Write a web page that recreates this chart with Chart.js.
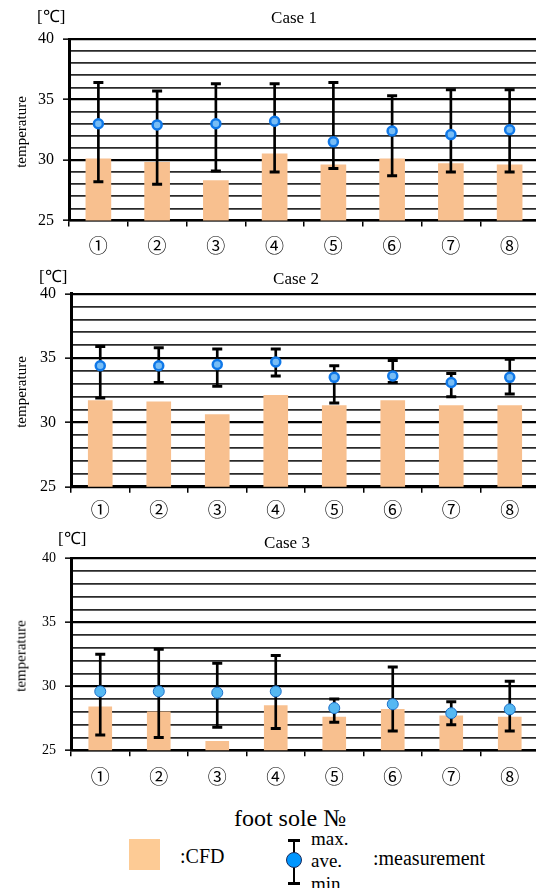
<!DOCTYPE html>
<html>
<head>
<meta charset="utf-8">
<script src="https://cdn.jsdelivr.net/npm/chart.js@4.4.1/dist/chart.umd.min.js"></script>
<style>
  html, body { margin: 0; padding: 0; width: 536px; height: 888px; overflow: hidden; background: #fff; }
  body { position: relative; font-family: "Liberation Serif", "Times New Roman", serif; color: #000; }
  .wrap { position: absolute; left: 0; width: 547px; }
  .txt { position: absolute; white-space: nowrap; line-height: 1; }
  .ylab { position: absolute; white-space: nowrap; font-size: 15px; line-height: 1; transform: translate(-50%, -50%) rotate(-90deg); }
  .title { position: absolute; font-size: 17px; transform: translateX(-50%); white-space: nowrap; line-height: 1; }
</style>
</head>
<body>
<div class="wrap" style="top:0;height:262px"><canvas id="c1"></canvas></div>
<div class="wrap" style="top:262px;height:262px"><canvas id="c2"></canvas></div>
<div class="wrap" style="top:524px;height:264px"><canvas id="c3"></canvas></div>

<div class="txt" style="left:37px;top:8px;font-size:17px">[℃]</div>
<div class="title" style="left:294px;top:9px">Case 1</div>
<div class="ylab" style="left:21px;top:132px">temperature</div>

<div class="txt" style="left:39px;top:268px;font-size:17px">[℃]</div>
<div class="title" style="left:296px;top:270px">Case 2</div>
<div class="ylab" style="left:21px;top:392px">temperature</div>

<div class="txt" style="left:58px;top:530px;font-size:17px">[℃]</div>
<div class="title" style="left:287px;top:534px">Case 3</div>
<div class="ylab" style="left:21px;top:656px">temperature</div>

<div class="txt" style="left:290px;top:806px;font-size:24px;transform:translateX(-50%)">foot sole №</div>
<div style="position:absolute;left:129px;top:839px;width:31px;height:31px;background:#fdcb95"></div>
<div class="txt" style="left:180px;top:846px;font-size:20px">:CFD</div>
<div style="position:absolute;left:293px;top:840px;width:2px;height:44px;background:#000"></div>
<div style="position:absolute;left:288px;top:839px;width:12px;height:3px;background:#000"></div>
<div style="position:absolute;left:288px;top:882px;width:12px;height:3px;background:#000"></div>
<div style="position:absolute;left:286px;top:852px;width:14px;height:14px;border-radius:50%;background:#0096ff;border:1px solid #1a2a5a"></div>
<div class="txt" style="left:311px;top:829px;font-size:19px">max.</div>
<div class="txt" style="left:311px;top:851px;font-size:19px">ave.</div>
<div class="txt" style="left:311px;top:874px;font-size:19px">min</div>
<div class="txt" style="left:373px;top:848px;font-size:20px">:measurement</div>

<script>
const categories = ['①','②','③','④','⑤','⑥','⑦','⑧'];

const case1Cfd = [30.1, 29.8, 28.3, 30.5, 29.6, 30.1, 29.7, 29.6];
const case1Ave = [33.0, 32.9, 33.0, 33.2, 31.5, 32.4, 32.1, 32.5];
const case1Max = [36.4, 35.7, 36.3, 36.3, 36.4, 35.3, 35.8, 35.8];
const case1Min = [28.2, 28.0, 29.1, 29.0, 29.3, 28.7, 29.0, 29.0];

const case2Cfd = [31.7, 31.6, 30.6, 32.1, 31.3, 31.7, 31.3, 31.3];
const case2Ave = [34.4, 34.4, 34.5, 34.7, 33.5, 33.6, 33.1, 33.5];
const case2Max = [35.9, 35.8, 35.7, 35.7, 34.4, 34.8, 33.8, 34.9];
const case2Min = [31.9, 33.1, 32.8, 33.6, 31.5, 33.1, 32.0, 32.2];

const case3Cfd = [28.4, 28.0, 25.7, 28.5, 27.6, 28.2, 27.7, 27.6];
const case3Ave = [29.6, 29.6, 29.5, 29.6, 28.3, 28.6, 27.9, 28.2];
const case3Max = [32.5, 32.9, 31.8, 32.4, 29.0, 31.5, 28.8, 30.4];
const case3Min = [26.2, 26.0, 26.8, 26.7, 27.2, 26.5, 27.0, 26.5];

const yMin = 25, yMax = 40, yStep = 1, yLabelEvery = 5;

function isMajor(c) { return c.tick && Math.abs(c.tick.value % yLabelEvery) < 1e-6; }

function makePanel(id, cfd, ave, mx, mn, cfg) {
  const canvas = document.getElementById(id);
  return new Chart(canvas, {
    data: {
      labels: categories,
      datasets: [
        { type: 'line', data: ave, showLine: false, pointStyle: 'circle',
          pointRadius: cfg.ptR, pointBorderWidth: cfg.ptBW,
          pointBackgroundColor: cfg.ptFill, pointBorderColor: cfg.ptBorder, order: 1 },
        { type: 'line', data: mx, showLine: false, pointStyle: 'line',
          pointRadius: 5, pointBorderWidth: 3, pointBorderColor: '#000', order: 2 },
        { type: 'line', data: mn, showLine: false, pointStyle: 'line',
          pointRadius: 5, pointBorderWidth: 3, pointBorderColor: '#000', order: 2 },
        { type: 'bar', data: mn.map((v, i) => [v, mx[i]]), backgroundColor: '#000',
          barThickness: 2, grouped: false, order: 3 },
        { type: 'bar', data: cfd, backgroundColor: '#f8c08f', barThickness: cfg.barW,
          grouped: false, order: 4 }
      ]
    },
    options: {
      responsive: true,
      maintainAspectRatio: false,
      animation: false,
      events: [],
      layout: { padding: { top: cfg.top, left: 0, right: 0, bottom: 0 } },
      plugins: { legend: { display: false }, tooltip: { enabled: false }, title: { display: false } },
      scales: {
        x: {
          type: 'category',
          offset: true,
          grid: { display: true, drawOnChartArea: false, offset: true, tickLength: 6,
                  color: '#000', lineWidth: 1.5 },
          border: { display: true, color: '#000', width: 2.5 },
          ticks: { color: '#000', padding: cfg.xPad, autoSkip: false, maxRotation: 0,
                   font: { family: "'Noto Sans CJK JP', 'DejaVu Sans'", size: 19 } },
          afterFit: s => { s.height = cfg.xH; }
        },
        y: {
          type: 'linear', min: yMin, max: yMax,
          ticks: { stepSize: yStep, maxTicksLimit: 40, autoSkip: false, color: '#000', padding: 9,
                   font: { family: "'Liberation Serif', serif", size: cfg.yFont },
                   callback: v => (v % yLabelEvery === 0 ? String(v) : '') },
          grid: {
            tickLength: 6,
            color: c => (isMajor(c) ? '#000' : '#2a2a2a'),
            lineWidth: c => (isMajor(c) ? 2.3 : 1.8),
            tickColor: c => (isMajor(c) ? '#000' : 'rgba(0,0,0,0)'),
            tickWidth: 1.5
          },
          border: { display: true, color: '#000', width: 3 },
          afterFit: s => { s.width = cfg.axisX; }
        }
      }
    }
  });
}

makePanel('c1', case1Cfd, case1Ave, case1Max, case1Min,
  { top: 39, xH: 41.5, axisX: 69, xPad: 8, barW: 25, yFont: 16,
    ptR: 4.5, ptBW: 2.5, ptFill: '#78bdf5', ptBorder: '#0f78e8' });
makePanel('c2', case2Cfd, case2Ave, case2Max, case2Min,
  { top: 31.7, xH: 37.3, axisX: 71, xPad: 6, barW: 24, yFont: 16,
    ptR: 4.5, ptBW: 2.5, ptFill: '#78bdf5', ptBorder: '#0f78e8' });
makePanel('c3', case3Cfd, case3Ave, case3Max, case3Min,
  { top: 34.3, xH: 37.7, axisX: 71, xPad: 9, barW: 23, yFont: 14,
    ptR: 5.5, ptBW: 1, ptFill: '#55b8f2', ptBorder: '#1b6fc8' });
</script>
</body>
</html>
